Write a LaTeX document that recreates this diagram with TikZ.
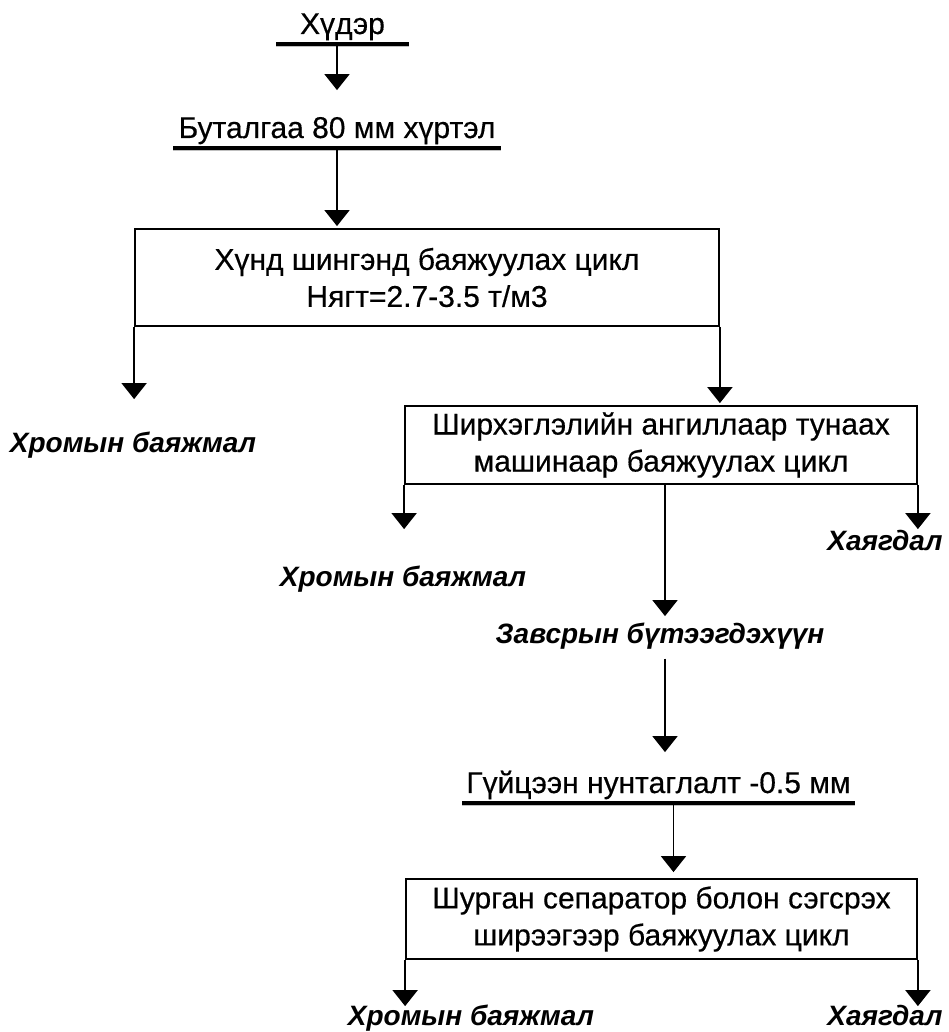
\documentclass[tikz,border=0pt]{standalone}
\usepackage{fontspec}
\setmainfont{Liberation Sans}[UprightFeatures={FakeBold=0.4}]
\usepackage{tikz}
\usetikzlibrary{calc,positioning,arrows.meta}
\tikzset{
	->,
	>={Triangle[width=25pt,length=16pt]},
	every node/.style={font=\fontsize{30}{37}\selectfont},
}

\begin{document}
\begin{tikzpicture}[
            x=1pt, y=-1pt,
            line width=1.8pt,
            stage/.style={draw, -, align=center, inner sep=0pt},
            head/.style={anchor=base, inner sep=0pt, text height=22pt, text depth=9pt},
            product/.style={anchor=base, inner sep=0pt, text height=20pt, font=\fontsize{28}{34}\selectfont\bfseries\itshape},
            uline/.style={-, line width=3.5pt, preaction={draw=black!25, transform canvas={yshift=-2.5pt}}}
        ]
        \useasboundingbox (0,0) rectangle (949,1032);
        \node[head, minimum width=131pt] (ore) at (342.5,34) {Хүдэр};
        \node[head, minimum width=326pt] (crush) at (337,138) {Буталгаа 80 мм хүртэл};
        \node[stage, minimum width=584pt, minimum height=97pt] (dense) at (427,277.5)
            {Хүнд шингэнд баяжуулах цикл\\Нягт=2.7-3.5 т/м3};
        \node[product] (conc1) at (133,452) {Хромын баяжмал};
        \node[stage, minimum width=512pt, minimum height=78pt] (jig) at (661,445)
            {Ширхэглэлийн ангиллаар тунаах\\машинаар баяжуулах цикл};
        \node[product] (conc2) at (403,586) {Хромын баяжмал};
        \node[product] (tail1) at (885,550) {Хаягдал};
        \node[product] (mid) at (660,643) {Завсрын бүтээгдэхүүн};
        \node[head, minimum width=391pt] (grind) at (658.5,793) {Гүйцээн нунтаглалт -0.5 мм};
        \node[stage, minimum width=511pt, minimum height=80pt] (table) at (661.5,919)
            {Шурган сепаратор болон сэгсрэх\\ширээгээр баяжуулах цикл};
        \node[product] (conc3) at (471,1025) {Хромын баяжмал};
        \node[product] (tail2) at (885,1025) {Хаягдал};

        \foreach \n in {ore,crush,grind}
            \draw[uline] (\n.south west) -- (\n.south east);

        \draw[shorten >=25pt] (ore.south -| crush.north) -- (crush.north);
        \draw[shorten >=2pt] (crush.south) -- (crush.south |- dense.north);
        \draw[shorten >=32pt] (dense.south west) -- (dense.south west |- conc1.north);
        \draw[shorten >=2pt] (dense.south east) -- (dense.south east |- jig.north);
        \draw[shorten >=36pt] (jig.south west) -- (jig.south west |- conc2.north);
        \draw (jig.south east) -- (jig.south east |- tail1.north);
        \draw[shorten >=6pt] ([xshift=4pt]jig.south) -- ([xshift=4pt]jig.south |- mid.north);
        \draw[shorten <=9pt, shorten >=18pt] ([xshift=5pt]mid.south) -- ([xshift=5pt]mid.south |- grind.north);
        \draw[shorten >=6pt] ([xshift=15pt]grind.south) -- ([xshift=15pt]grind.south |- table.north);
        \draw[shorten >=-2pt] (table.south west) -- (table.south west |- conc3.north);
        \draw[shorten >=-2pt] (table.south east) -- (table.south east |- tail2.north);
\end{tikzpicture}
\end{document}
